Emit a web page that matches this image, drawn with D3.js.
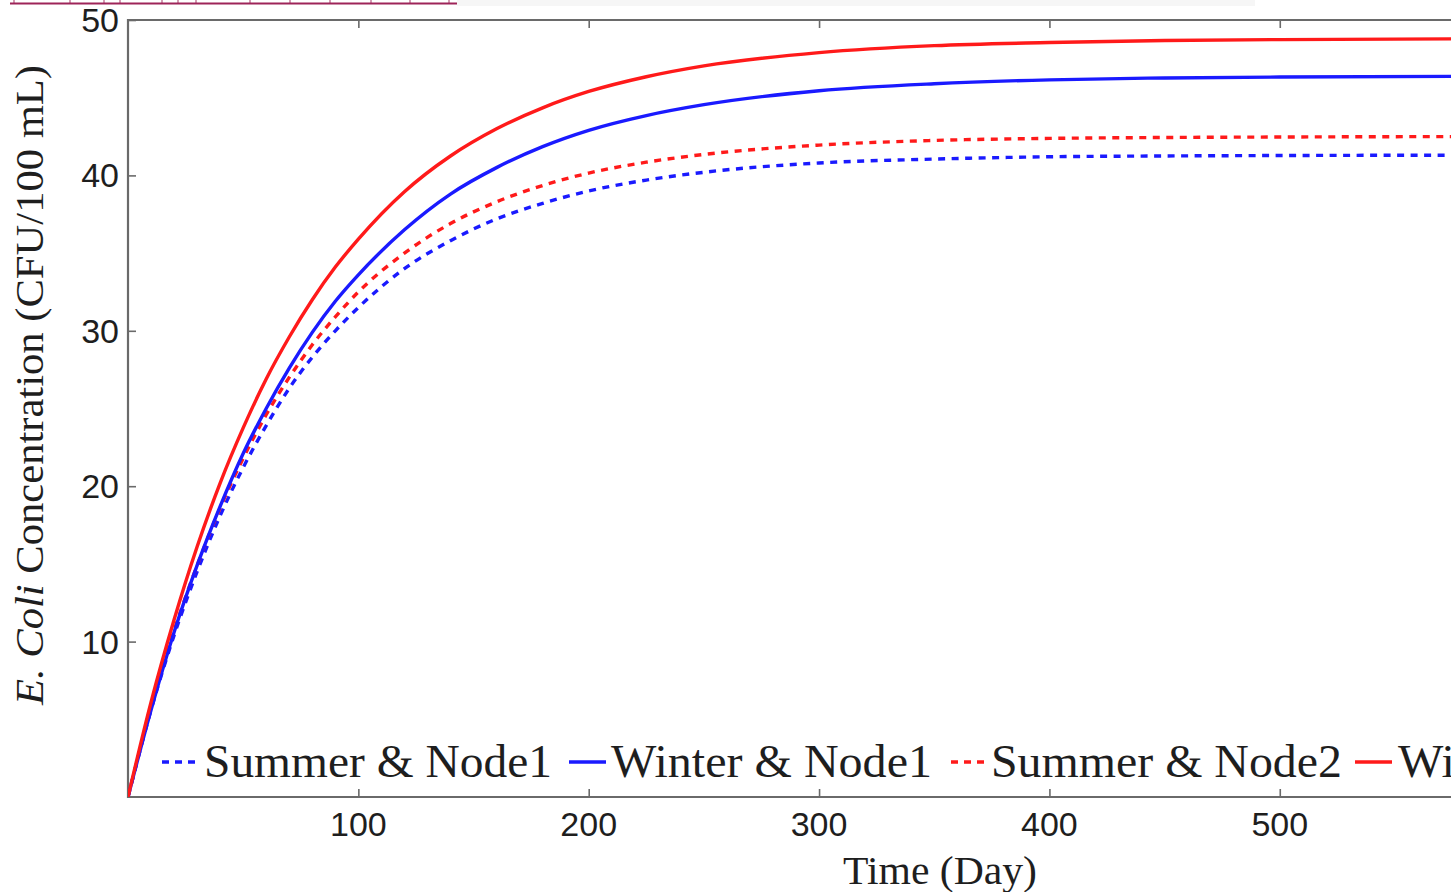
<!DOCTYPE html>
<html>
<head>
<meta charset="utf-8">
<script src="https://cdn.jsdelivr.net/npm/d3@7"></script>
<style>
  body { margin: 0; background: #fff; }
  svg { display: block; }
</style>
</head>
<body>
<svg width="1451" height="892"></svg>
<script>
var svg = d3.select("svg"),
    width = +svg.attr("width"),
    height = +svg.attr("height");

// days
var days = [0, 10, 20, 30, 40, 50, 60, 70, 80, 90, 100, 120, 140, 160, 180, 200, 225, 250, 300, 350, 400, 450, 500, 600, 700];

var summerNode1 = [0, 5.6, 10.4, 14.5, 18.1, 21.2, 23.9, 26.3, 28.3, 30.0, 31.5, 34.0, 35.8, 37.2, 38.2, 39.0, 39.7, 40.2, 40.8, 41.05, 41.2, 41.25, 41.28, 41.3, 41.3];
var winterNode1 = [0, 5.6, 10.6, 14.9, 18.7, 22.1, 25.0, 27.6, 29.9, 31.9, 33.6, 36.5, 38.8, 40.5, 41.85, 42.9, 43.85, 44.55, 45.45, 45.9, 46.15, 46.27, 46.33, 46.38, 46.4];
var summerNode2 = [0, 5.7, 10.7, 14.9, 18.6, 21.8, 24.6, 27.0, 29.1, 30.9, 32.5, 35.0, 36.9, 38.3, 39.35, 40.15, 40.85, 41.35, 41.95, 42.25, 42.38, 42.44, 42.47, 42.5, 42.5];
var winterNode2 = [0, 6.1, 11.4, 16.1, 20.2, 23.75, 26.9, 29.6, 32.0, 34.1, 35.9, 38.95, 41.25, 43.0, 44.35, 45.4, 46.35, 47.05, 47.9, 48.35, 48.55, 48.68, 48.74, 48.8, 48.8];

var seriesNames = ["Summer & Node1", "Winter & Node1", "Summer & Node2", "Winter & Node2"];
var seriesColors = ["#1a1aff", "#1a1aff", "#ff1a1a", "#ff1a1a"];
var seriesDashed = [true, false, true, false];
var seriesValues = [summerNode1, winterNode1, summerNode2, winterNode2];

var xTicks = [100, 200, 300, 400, 500];
var yTicks = [10, 20, 30, 40, 50];

var plot = {left: 128, top: 20, bottom: 797, right: 1752};

var x = d3.scaleLinear().domain([0, 705]).range([plot.left, plot.right]);
var y = d3.scaleLinear().domain([0, 50]).range([plot.bottom, plot.top]);

// stub of page text cut off above the figure
svg.append("rect")
  .attr("x", 457).attr("y", 0).attr("width", 798).attr("height", 6)
  .attr("fill", "#f6f6f6");
svg.append("line")
  .attr("x1", 10).attr("x2", 457).attr("y1", 3.5).attr("y2", 3.5)
  .attr("stroke", "#9e2459").attr("stroke-width", 2);
[14, 70, 104, 120, 162, 178, 196, 250, 290, 330, 371, 410, 449].forEach(function(px) {
  svg.append("line")
    .attr("x1", px).attr("x2", px).attr("y1", 0).attr("y2", 3)
    .attr("stroke", "#9e2459").attr("stroke-width", 1.5).attr("opacity", 0.6);
});

svg.append("clipPath").attr("id", "plot-clip")
  .append("rect")
  .attr("x", plot.left).attr("y", plot.top)
  .attr("width", plot.right - plot.left).attr("height", plot.bottom - plot.top);

// axes
var axisColor = "#6a6a6a";
var fontSans = "'Liberation Sans', Arial, sans-serif";
var fontSerif = "'Liberation Serif', 'Times New Roman', serif";

var yAxis = svg.append("g")
  .attr("transform", "translate(" + plot.left + ",0)")
  .call(d3.axisRight(y).tickValues(yTicks).tickSize(8).tickFormat(""));
var xAxisBottom = svg.append("g")
  .attr("transform", "translate(0," + plot.bottom + ")")
  .call(d3.axisTop(x).tickValues(xTicks).tickSize(8).tickFormat(""));
var xAxisTop = svg.append("g")
  .attr("transform", "translate(0," + plot.top + ")")
  .call(d3.axisBottom(x).tickValues(xTicks).tickSize(8).tickFormat(""));

[yAxis, xAxisBottom, xAxisTop].forEach(function(ax) {
  ax.select(".domain").remove();
  ax.selectAll(".tick line").attr("stroke", axisColor).attr("stroke-width", 1.6);
});

svg.append("path")
  .attr("d", "M" + plot.right + "," + plot.top + "H" + plot.left + "V" + plot.bottom + "H" + plot.right)
  .attr("fill", "none")
  .attr("stroke", axisColor)
  .attr("stroke-width", 2.2);

svg.append("g").selectAll("text")
  .data(yTicks)
  .enter()
  .append("text")
  .attr("x", 119)
  .attr("y", function(d) { return y(d) + 12; })
  .attr("text-anchor", "end")
  .attr("font-family", fontSans)
  .attr("font-size", 34)
  .attr("fill", "#1e1e1e")
  .text(function(d) { return d; });

svg.append("g").selectAll("text")
  .data(xTicks)
  .enter()
  .append("text")
  .attr("x", function(d) { return x(d); })
  .attr("y", 836)
  .attr("text-anchor", "middle")
  .attr("font-family", fontSans)
  .attr("font-size", 34)
  .attr("fill", "#1e1e1e")
  .text(function(d) { return d; });

// axis titles
svg.append("text")
  .attr("x", 940)
  .attr("y", 884)
  .attr("text-anchor", "middle")
  .attr("font-family", fontSerif)
  .attr("font-size", 41)
  .attr("fill", "#1e1e1e")
  .attr("textLength", 194)
  .attr("lengthAdjust", "spacingAndGlyphs")
  .text("Time (Day)");

var yTitle = svg.append("text")
  .attr("transform", "translate(43,385) rotate(-90)")
  .attr("text-anchor", "middle")
  .attr("font-family", fontSerif)
  .attr("font-size", 41)
  .attr("fill", "#1e1e1e")
  .attr("textLength", 640)
  .attr("lengthAdjust", "spacingAndGlyphs");
yTitle.append("tspan").attr("font-style", "italic").text("E.");
yTitle.append("tspan").text(" ");
yTitle.append("tspan").attr("font-style", "italic").text("Coli");
yTitle.append("tspan").text(" Concentration (CFU/100 mL)");

// curves
var line = d3.line()
  .x(function(d) { return x(d[0]); })
  .y(function(d) { return y(d[1]); })
  .curve(d3.curveMonotoneX);

var curves = svg.append("g").attr("clip-path", "url(#plot-clip)");
[0, 2, 1, 3].forEach(function(si) {
  curves.append("path")
    .datum(days.map(function(d, i) { return [d, seriesValues[si][i]]; }))
    .attr("d", line)
    .attr("fill", "none")
    .attr("stroke", seriesColors[si])
    .attr("stroke-width", 3.4)
    .attr("stroke-dasharray", seriesDashed[si] ? "7,6.5" : null);
});

// legend (last entry runs off the right edge, as in the source)
var legendItems = [
  {sample: 162, text: 204, width: 348},
  {sample: 569, text: 611, width: 321},
  {sample: 951, text: 991, width: 351},
  {sample: 1355, text: 1398, width: 321}
];

var legend = svg.append("g");
legendItems.forEach(function(item, i) {
  legend.append("line")
    .attr("x1", item.sample).attr("x2", item.sample + 37)
    .attr("y1", 762).attr("y2", 762)
    .attr("stroke", seriesColors[i])
    .attr("stroke-width", 3.4)
    .attr("stroke-dasharray", seriesDashed[i] ? "7,6" : null);
  legend.append("text")
    .attr("x", item.text)
    .attr("y", 777)
    .attr("font-family", fontSerif)
    .attr("font-size", 47)
    .attr("fill", "#1e1e1e")
    .attr("textLength", item.width)
    .attr("lengthAdjust", "spacingAndGlyphs")
    .text(seriesNames[i]);
});
</script>
</body>
</html>
